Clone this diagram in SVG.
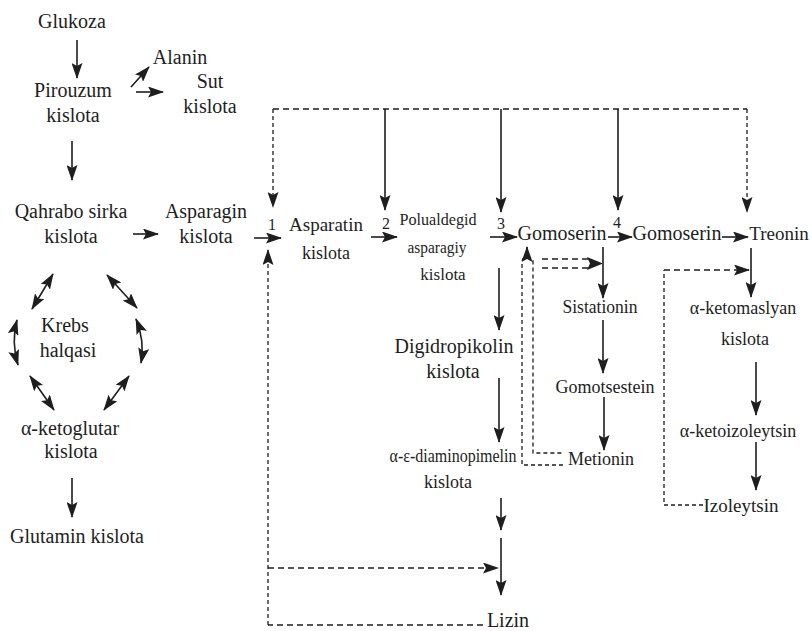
<svg xmlns="http://www.w3.org/2000/svg" width="812" height="631" viewBox="0 0 812 631">
<defs>
<style>
text{font-family:"Liberation Serif","Times New Roman",serif;font-size:20px;fill:#1e1e1e;text-anchor:middle}
.s16{font-size:16px}.s17{font-size:17px}.s18{font-size:18px}.s19{font-size:19px}
.ln{fill:none;stroke:#1e1e1e;stroke-width:1.6}
.dh{fill:none;stroke:#1e1e1e;stroke-width:1.5;stroke-dasharray:6 4}
.dv{fill:none;stroke:#1e1e1e;stroke-width:1.3;stroke-dasharray:4 3}
.arr{marker-end:url(#ah)}
.dbl{marker-start:url(#ah);marker-end:url(#ah)}
</style>
<marker id="ah" markerUnits="userSpaceOnUse" markerWidth="16" markerHeight="11" refX="15" refY="5.5" orient="auto-start-reverse" viewBox="0 0 16 11">
<path d="M0,0 L16,5.5 L0,11 L3,5.5 z" fill="#1e1e1e"/>
</marker>
</defs>
<rect width="812" height="631" fill="#fff"/>

<g id="connectors">
<path class="ln arr" d="M77 40 V78"/>
<path class="ln arr" d="M131 87 L149 67"/>
<path class="ln arr" d="M136 92 H163"/>
<path class="ln arr" d="M72 141 V180"/>
<path class="ln arr" d="M133 234 H158"/>
<path class="ln arr" d="M254 238 H281"/>
<path class="ln arr" d="M371 237 H397"/>
<path class="ln arr" d="M490 237 H517"/>
<path class="ln arr" d="M608 237 H632"/>
<path class="ln arr" d="M722 237 H748"/>
<path class="ln arr" d="M385 109 V210"/>
<path class="ln arr" d="M501 109 V212"/>
<path class="ln arr" d="M618 109 V210"/>
<path class="ln arr" d="M603 247 V298"/>
<path class="ln arr" d="M603 320 V373"/>
<path class="ln arr" d="M604 397 V450"/>
<path class="ln arr" d="M499 268 V330"/>
<path class="ln arr" d="M499 378 V442"/>
<path class="ln arr" d="M501 498 V530"/>
<path class="ln arr" d="M501 538 V595"/>
<path class="ln arr" d="M751 248 V297"/>
<path class="ln arr" d="M756 362 V415"/>
<path class="ln arr" d="M756 442 V490"/>
<path class="ln arr" d="M72 478 V517"/>
<!-- Krebs cycle double arrows -->
<path class="ln dbl" d="M53 274 L32 309"/>
<path class="ln dbl" d="M107 275 L137 308"/>
<path class="ln dbl" d="M17 320 Q11 342 18 365"/>
<path class="ln dbl" d="M136 319 Q145 341 141 363"/>
<path class="ln dbl" d="M30 376 L54 410"/>
<path class="ln dbl" d="M129 376 L104 410"/>
<!-- dashed feedback -->
<path class="dh" d="M273 109 H747"/>
<path class="dv arr" d="M273 109 V207"/>
<path class="dv arr" d="M747 109 V212"/>
<path class="dh" d="M483 625 H268"/>
<path class="dv arr" d="M268 625 V250"/>
<path class="dh arr" d="M268 568 H498"/>
<path class="dv" d="M563 465 H522 V262 Q522 257 527 257 Q533 257 533 262 V453 H563"/>
<path class="ln arr" d="M527 258 V247"/>
<path class="dh" d="M542 259 H592"/>
<path class="dh" d="M542 268 H592"/>
<path d="M587 257 L603 263.5 L587 270 L590 263.5 z" fill="#1e1e1e"/>
<path class="dv" d="M703 505 H664 V270"/>
<path class="dh arr" d="M664 270 H749"/>
</g>

<g id="glukoza"><text x="72" y="28">Glukoza</text></g>
<g id="pirouzum"><text x="73" y="97">Pirouzum</text><text x="73" y="122">kislota</text></g>
<g id="alanin"><text x="180" y="64">Alanin</text></g>
<g id="sut"><text x="210" y="88">Sut</text><text x="210" y="113">kislota</text></g>
<g id="qahrabo"><text x="71" y="218">Qahrabo sirka</text><text x="71" y="243">kislota</text></g>
<g id="asparagin"><text x="206" y="218">Asparagin</text><text x="206" y="243">kislota</text></g>
<g id="krebs"><text x="65" y="332">Krebs</text><text x="68" y="357">halqasi</text></g>
<g id="ketoglutar"><text x="70" y="435">α-ketoglutar</text><text x="71" y="458">kislota</text></g>
<g id="glutamin"><text x="77" y="543">Glutamin kislota</text></g>
<g id="labels">
<text class="s16" x="272" y="230">1</text>
<text class="s16" x="386" y="229">2</text>
<text class="s16" x="501" y="229">3</text>
<text class="s16" x="617" y="228">4</text>
</g>
<g id="asparatin"><text class="s19" x="326" y="231">Asparatin</text><text class="s18" x="326" y="259">kislota</text></g>
<g id="polualdegid"><text class="s17" x="438" y="225" textLength="77" lengthAdjust="spacingAndGlyphs">Polualdegid</text><text class="s17" x="437" y="253" textLength="59" lengthAdjust="spacingAndGlyphs">asparagiy</text><text class="s17" x="443" y="280">kislota</text></g>
<g id="gomoserin1"><text x="562" y="240">Gomoserin</text></g>
<g id="gomoserin2"><text x="677" y="240">Gomoserin</text></g>
<g id="treonin"><text class="s19" x="779" y="240">Treonin</text></g>
<g id="sistationin"><text class="s18" x="600" y="313" textLength="75" lengthAdjust="spacingAndGlyphs">Sistationin</text></g>
<g id="gomotsestein"><text class="s18" x="605" y="393">Gomotsestein</text></g>
<g id="metionin"><text class="s18" x="601" y="465">Metionin</text></g>
<g id="digidropikolin"><text x="454" y="353">Digidropikolin</text><text x="453" y="378">kislota</text></g>
<g id="diaminopimelin"><text class="s18" x="453" y="462" textLength="127" lengthAdjust="spacingAndGlyphs">α-ε-diaminopimelin</text><text class="s18" x="448" y="488">kislota</text></g>
<g id="lizin"><text x="508" y="627">Lizin</text></g>
<g id="ketomaslyan"><text class="s18" x="743" y="314">α-ketomaslyan</text><text class="s18" x="745" y="345">kislota</text></g>
<g id="ketoizoleytsin"><text class="s18" x="738" y="437">α-ketoizoleytsin</text></g>
<g id="izoleytsin"><text class="s19" x="741" y="512">Izoleytsin</text></g>
</svg>
